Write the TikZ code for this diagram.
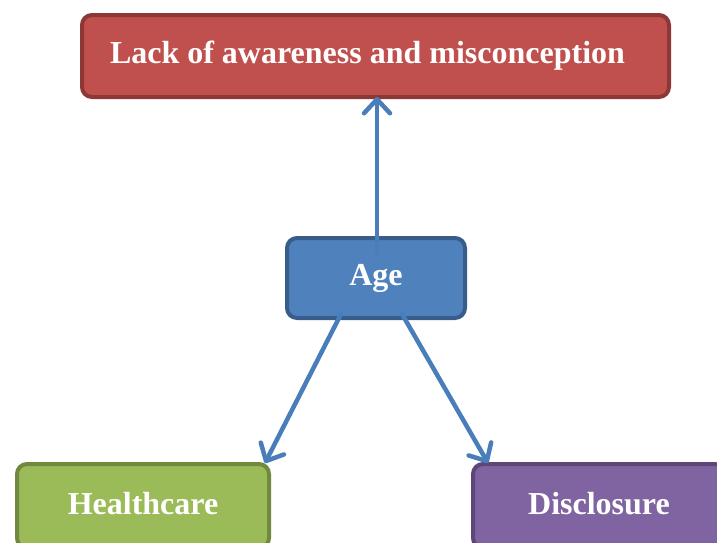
\documentclass[tikz,border=0pt]{standalone}
\usepackage{fontspec}
\setmainfont{Liberation Serif}
\usetikzlibrary{arrows.meta,calc}
\definecolor{redfill}{HTML}{C0504D}
\definecolor{redline}{HTML}{8C3836}
\definecolor{bluefill}{HTML}{4F81BD}
\definecolor{blueline}{HTML}{385D8A}
\definecolor{greenfill}{HTML}{9BBB59}
\definecolor{greenline}{HTML}{71893F}
\definecolor{purplefill}{HTML}{8064A2}
\definecolor{purpleline}{HTML}{5C4776}
\definecolor{arrowcol}{HTML}{4A7EBB}
\begin{document}
\begin{tikzpicture}[x=1pt,y=-1pt,
  boxstyle/.style={rectangle, rounded corners=10pt, line width=4pt, text=white,
    font=\fontsize{32}{36}\selectfont\bfseries, inner sep=0pt, anchor=north west},
  link/.style={arrowcol, line width=4.5pt, line cap=round,
    -{Straight Barb[length=14pt,width=26pt,round]}}]
\useasboundingbox (0,0) rectangle (717,542);
\clip (0,0) rectangle (717,542);
\node[boxstyle, fill=redfill, draw=redline, minimum width=587pt, minimum height=82pt] (top) at (80,13) {\hspace*{-16pt}\raisebox{8pt}{Lack of awareness and misconception}};
\node[boxstyle, fill=greenfill, draw=greenline, minimum width=252pt, minimum height=84pt] (health) at (15,462) {\raisebox{5pt}{Healthcare}};
\node[boxstyle, fill=purplefill, draw=purpleline, minimum width=252pt, minimum height=84pt] (disc) at (471,462) {\raisebox{5pt}{Disclosure}};
\node[boxstyle, fill=bluefill, draw=blueline, minimum width=178pt, minimum height=80pt] (age) at (285,236) {\raisebox{5pt}{Age}};
\coordinate (a1) at (377,253);
\coordinate (a2) at (341,314);
\coordinate (a3) at (402,314);
\coordinate (t1) at (377,97);
\coordinate (t2) at (265,463);
\coordinate (t3) at (488,463);
\draw[link] (a1) -- (t1);
\draw[link] (a2) -- (t2);
\draw[link] (a3) -- (t3);
\end{tikzpicture}
\end{document}
